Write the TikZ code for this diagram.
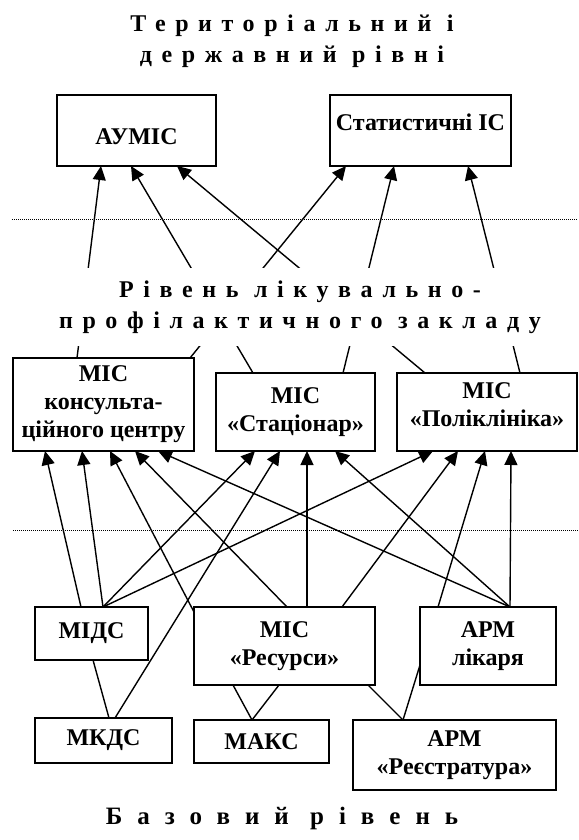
\documentclass[tikz,border=0pt]{standalone}
\usepackage{fontspec}
\setmainfont{Liberation Serif}
\newfontfamily\spacedfont[LetterSpace=40]{Liberation Serif}
\newfontfamily\widefont[LetterSpace=60]{Liberation Serif}
\usetikzlibrary{arrows.meta,calc}
\begin{document}
\begin{tikzpicture}[x=1pt,y=-1pt,
  box/.style={draw, line width=1.6pt, inner sep=0pt, outer sep=0pt, align=center,
    font=\fontsize{24}{28}\selectfont\bfseries},
  conn/.style={line width=1.4pt},
  arr/.style={conn, -{Triangle[length=14pt,width=13pt]}},
  lvl/.style={align=center, inner sep=0pt, font=\fontsize{24}{31}\spacedfont\bfseries},
  sep/.style={line width=0.9pt, dash pattern=on 1pt off 1pt},
]
\useasboundingbox (0,0) rectangle (578,840);

% top level
\node[lvl] (ttl) at (292,41.5) {Територіальний і\\державний рівні};
\node[box, minimum width=159pt, minimum height=71pt] (aumis) at (136.5,130.5) {\raisebox{-14pt}[0pt][0pt]{АУМІС}};
\node[box, minimum width=181pt, minimum height=71pt] (sis) at (420.5,130.5) {\raisebox{0pt}[0pt][0pt]{Статистичні ІС}};

\draw[sep] (12,219) -- (578,219);

% middle level
\node[box, minimum width=181pt, minimum height=93pt] (kc) at (103.5,404.5) {МІС\\консульта-\\ційного центру};
\node[box, minimum width=159pt, minimum height=78pt] (stac) at (295.5,412) {МІС\\«Стаціонар»};
\node[box, minimum width=180pt, minimum height=78pt] (polik) at (487,412) {МІС\\«Поліклініка»\\[-14pt]\mbox{}};

% upper connectors
\draw[arr] ([xshift=64pt]kc.north west) -- ([xshift=44pt]aumis.south west);
\draw[arr] ([xshift=37pt]stac.north west) -- ([xshift=74pt]aumis.south west);
\draw[arr] ([xshift=28pt]polik.north west) -- ([xshift=120pt]aumis.south west);
\draw[arr] ([xshift=177pt]kc.north west) -- ([xshift=16pt]sis.south west);
\draw[arr] ([xshift=127pt]stac.north west) -- ([xshift=64pt]sis.south west);
\draw[arr] ([xshift=123pt]polik.north west) -- ([xshift=138pt]sis.south west);

\node[lvl, fill=white, minimum width=520pt, minimum height=78pt] (lpz) at (300,307)
  {Рівень лікувально-\\профілактичного закладу};

\draw[sep] (13,530) -- (578,530);

% base level
\node[box, minimum width=113pt, minimum height=53pt] (midc) at (91.5,633.5) {МІДС};
\node[box, minimum width=137pt, minimum height=45pt] (mkds) at (103.5,740.5) {МКДС};
\node[box, minimum width=181pt, minimum height=78pt] (res) at (284.5,646) {МІС\\«Ресурси»};
\node[box, minimum width=135pt, minimum height=43pt] (maks) at (261.5,741.5) {МАКС};
\node[box, minimum width=136pt, minimum height=78pt] (likar) at (488,646) {АРМ\\лікаря};
\node[box, minimum width=203pt, minimum height=70pt] (reestr) at (454.5,755) {АРМ\\«Реєстратура»};

% lower connectors
\draw[arr] ([xshift=46pt]midc.north west) -- ([xshift=32pt]kc.south west);
\draw[arr] ([xshift=68pt]midc.north west) -- ([xshift=69pt]kc.south west);
\draw[arr] ([xshift=68pt]midc.north west) -- ([xshift=39pt]stac.south west);
\draw[arr] ([xshift=68pt]midc.north west) -- ([xshift=36pt]polik.south west);
\draw[arr] ([xshift=80pt]mkds.north west) -- ([xshift=64pt]stac.south west);
\draw[arr] ([yshift=-5pt]res.north west) -- ([xshift=97pt]kc.south west);
\draw[arr] ([xshift=93pt]res.north west) -- ([xshift=122pt]kc.south west);
\draw[arr] ([xshift=113pt]res.north west) -- ([xshift=91pt]stac.south west);
\draw[arr] ([xshift=148pt]res.north west) -- ([xshift=61pt]polik.south west);
\draw[arr] ([xshift=90pt]likar.north west) -- ([xshift=145pt]kc.south west);
\draw[arr] ([xshift=90pt]likar.north west) -- ([xshift=119pt]stac.south west);
\draw[arr] ([xshift=18pt]likar.north west) -- ([xshift=88pt]polik.south west);
\draw[arr] ([xshift=90pt]likar.north west) -- ([xshift=114pt]polik.south west);

% plain links
\draw[conn] ([xshift=58pt]midc.south west) -- ([xshift=74pt]mkds.north west);
\draw[conn] ([xshift=39pt]res.south west) -- ([xshift=58pt]maks.north west);
\draw[conn] ([xshift=85pt]res.south west) -- ([xshift=58pt]maks.north west);
\draw[conn] ([xshift=174pt]res.south west) -- ([xshift=50pt]reestr.north west);
\draw[conn] ([xshift=50pt]reestr.north west) -- ([yshift=-58pt]likar.north west);

\node[anchor=base, inner sep=0pt, font=\fontsize{25}{30}\widefont\bfseries] (base) at (282,824) {Базовий рівень};
\end{tikzpicture}
\end{document}
